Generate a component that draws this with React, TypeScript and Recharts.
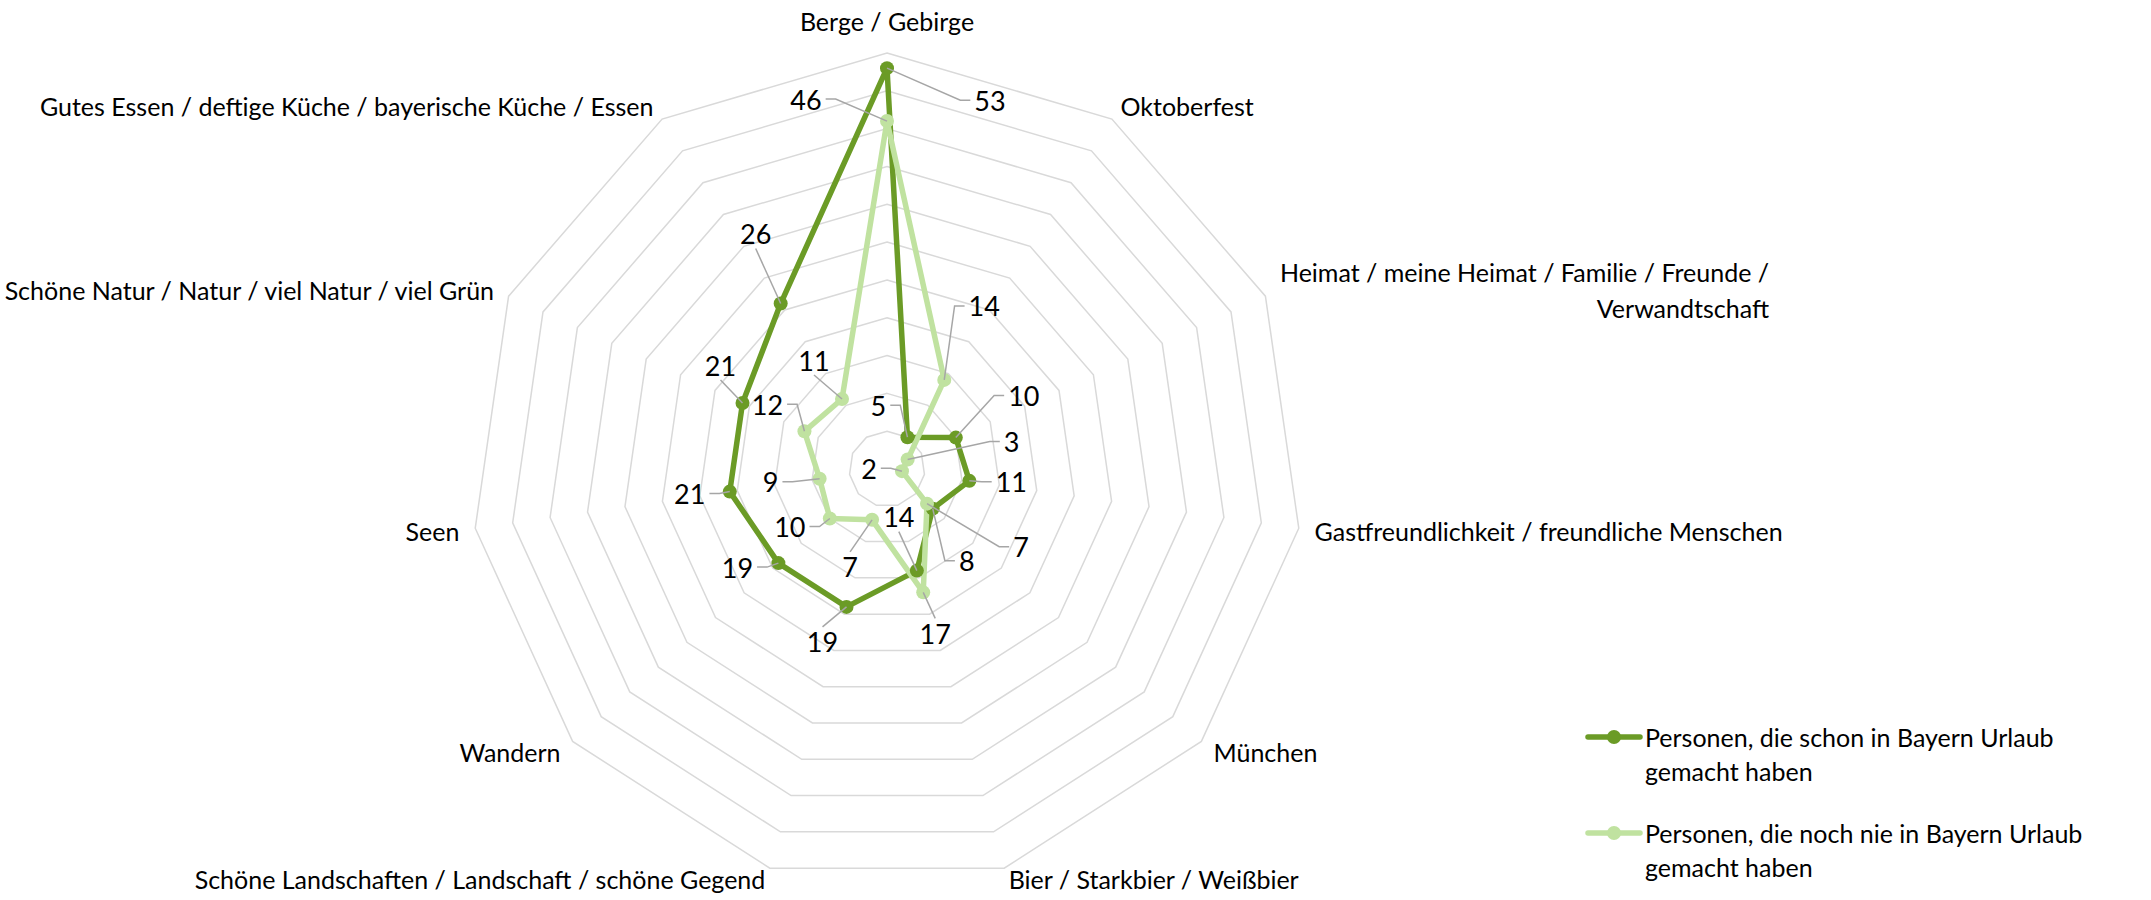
import { Legend, PolarAngleAxis, PolarGrid, PolarRadiusAxis, Radar, RadarChart } from "recharts";

const categories = [
  "Berge / Gebirge",
  "Oktoberfest",
  "Heimat / meine Heimat / Familie / Freunde / Verwandtschaft",
  "Gastfreundlichkeit / freundliche Menschen",
  "München",
  "Bier / Starkbier / Weißbier",
  "Schöne Landschaften / Landschaft / schöne Gegend",
  "Wandern",
  "Seen",
  "Schöne Natur / Natur / viel Natur / viel Grün",
  "Gutes Essen / deftige Küche / bayerische Küche / Essen"
];
const visitedValues = [53, 5, 10, 11, 8, 14, 19, 19, 21, 21, 26];
const neverValues = [46, 14, 3, 2, 7, 17, 7, 10, 9, 12, 11];
const visitedName = "Personen, die schon in Bayern Urlaub gemacht haben";
const neverName = "Personen, die noch nie in Bayern Urlaub gemacht haben";
const seriesOrder = [visitedName, neverName];
const radiusDomain = [0, 55];
const radiusTickCount = 12;

// label centre offsets from each point (Excel had them dragged by hand)
const visitedLabelOffsets = [
  [103, 32], [-29, -32], [68, -42], [42, 1], [34, 52], [-18, -54],
  [-24, 35], [-41, 4], [-40, 2], [-22, -38], [-25, -70]
];
const neverLabelOffsets = [
  [-81, -22], [40, -74], [104, -18], [-33, -3], [94, 43], [12, 41],
  [-22, 47], [-40, 8], [-49, 3], [-37, -27], [-28, -39]
];

const WIDTH = 2151;
const HEIGHT = 900;
const CX = 887;
const CY = 469;
const OUTER = 416;
const FONT = "Lato, 'Open Sans', sans-serif";
const CATEGORY_SIZE = 25;
const VALUE_SIZE = 27;
const LEGEND_SIZE = 25;
const DARK = "#6B9B26";
const LIGHT = "#C0E2A0";
const LEADER = "#A6A6A6";
const LINE_WIDTH = 5.5;
const DOT_R = 7;

const rows = categories.map((category, i) => ({
  category,
  visited: visitedValues[i],
  never: neverValues[i]
}));

let measureCtx: CanvasRenderingContext2D | null = null;
function measure(text: string, size: number) {
  if (!measureCtx) measureCtx = document.createElement("canvas").getContext("2d");
  if (!measureCtx) return text.length * size * 0.5;
  measureCtx.font = `${size}px ${FONT}`;
  return measureCtx.measureText(text).width;
}

function wrapLabel(text: string) {
  if (text.length <= 55) return [text];
  const words = text.split(" ");
  const lines: string[] = [];
  let line = "";
  for (const w of words) {
    const next = line ? `${line} ${w}` : w;
    if (next.length > 45 && line) {
      lines.push(line);
      line = w;
    } else {
      line = next;
    }
  }
  if (line) lines.push(line);
  return lines;
}

function CategoryTick(props: any) {
  const { x, y, payload } = props;
  const len = Math.hypot(x - CX, y - CY) || 1;
  const sin = (x - CX) / len;
  const cos = -(y - CY) / len;
  const vx = CX + sin * OUTER;
  const vy = CY - cos * OUTER;
  const lines = wrapLabel(String(payload.value));

  let anchor: "start" | "middle" | "end" = "middle";
  let tx = vx;
  let ty = vy - 32;
  if (Math.abs(sin) > 0.05) {
    anchor = sin > 0 ? "start" : "end";
    tx = vx + 16 * sin;
    ty = vy + (cos > 0 ? -15 * cos : Math.min(11, -17 * cos));
  }

  const lineHeight = 36;
  let x0 = tx;
  let textAnchor = anchor;
  if (lines.length > 1) {
    const maxW = Math.max(...lines.map((l) => measure(l, CATEGORY_SIZE)));
    x0 = anchor === "start" ? tx + maxW : anchor === "end" ? tx : tx + maxW / 2;
    textAnchor = "end";
  }

  return (
    <g>
      {lines.map((l, i) => (
        <text
          key={l}
          x={x0}
          y={ty + (i - (lines.length - 1) / 2) * lineHeight}
          textAnchor={textAnchor}
          dominantBaseline="central"
          fontFamily={FONT}
          fontSize={CATEGORY_SIZE}
          fill="#000"
        >
          {l}
        </text>
      ))}
    </g>
  );
}

function makeDot(color: string) {
  return (props: any) => (
    <circle key={`dot-${props.index}`} cx={props.cx} cy={props.cy} r={DOT_R} fill={color} stroke="none" />
  );
}

function makeValueLabel(values: number[], offsets: number[][]) {
  return (props: any) => {
    const { cx, cy, index } = props;
    const [ox, oy] = offsets[index];
    const text = String(values[index]);
    const lx = cx + ox;
    const ly = cy + oy;
    const halfW = measure(text, VALUE_SIZE) / 2;
    const halfH = 12;
    let d: string;
    if (Math.abs(ox) > halfW + 16) {
      const side = ox > 0 ? -1 : 1;
      const endX = lx + side * (halfW + 4);
      const elbowX = endX + side * 10;
      d = `M${cx},${cy}L${elbowX},${ly}L${endX},${ly}`;
    } else {
      const endY = ly + (oy > 0 ? -(halfH + 3) : halfH + 3);
      d = `M${cx},${cy}L${lx},${endY}`;
    }
    return (
      <g key={`label-${index}`}>
        <path d={d} stroke={LEADER} strokeWidth={1.5} fill="none" />
        <text
          x={lx}
          y={ly}
          textAnchor="middle"
          dominantBaseline="central"
          fontFamily={FONT}
          fontSize={VALUE_SIZE}
          fill="#000"
        >
          {text}
        </text>
      </g>
    );
  };
}

function LegendContent(props: any) {
  const items = (props.payload ?? [])
    .filter((p: any) => p.type !== "none" && seriesOrder.includes(p.value))
    .sort((a: any, b: any) => seriesOrder.indexOf(a.value) - seriesOrder.indexOf(b.value));
  return (
    <div style={{ fontFamily: FONT, fontSize: LEGEND_SIZE, color: "#000" }}>
      {items.map((item: any, i: number) => (
        <div key={item.value} style={{ display: "flex", alignItems: "flex-start", marginTop: i === 0 ? 0 : 28 }}>
          <svg width={58} height={34} style={{ flex: "none" }}>
            <line x1={3} y1={17} x2={55} y2={17} stroke={item.color} strokeWidth={LINE_WIDTH} strokeLinecap="round" />
            <circle cx={29} cy={17} r={DOT_R} fill={item.color} />
          </svg>
          <div style={{ width: 490, lineHeight: "34px", marginLeft: 2 }}>{item.value}</div>
        </div>
      ))}
    </div>
  );
}

export default function App() {
  return (
    <div style={{ position: "absolute", left: 0, top: 0, width: WIDTH, height: HEIGHT, background: "#fff" }}>
      <RadarChart
        width={WIDTH}
        height={HEIGHT}
        data={rows}
        cx={CX}
        cy={CY}
        outerRadius={OUTER}
        margin={{ top: 0, right: 0, bottom: 0, left: 0 }}
      >
        <PolarGrid gridType="polygon" radialLines={false} stroke="#D9D9D9" strokeWidth={1.5} />
        <PolarAngleAxis dataKey="category" tick={<CategoryTick />} tickLine={false} axisLine={false} />
        <PolarRadiusAxis
          type="number"
          domain={radiusDomain}
          tickCount={radiusTickCount}
          tick={false}
          axisLine={false}
        />
        <Radar
          name={visitedName}
          dataKey="visited"
          stroke={DARK}
          strokeWidth={LINE_WIDTH}
          strokeLinejoin="round"
          fill="none"
          fillOpacity={0}
          dot={makeDot(DARK)}
          isAnimationActive={false}
        />
        <Radar
          name={neverName}
          dataKey="never"
          stroke={LIGHT}
          strokeWidth={LINE_WIDTH}
          strokeLinejoin="round"
          fill="none"
          fillOpacity={0}
          dot={makeDot(LIGHT)}
          isAnimationActive={false}
        />
        <Radar
          dataKey="visited"
          stroke="none"
          fill="none"
          legendType="none"
          dot={makeValueLabel(visitedValues, visitedLabelOffsets)}
          isAnimationActive={false}
        />
        <Radar
          dataKey="never"
          stroke="none"
          fill="none"
          legendType="none"
          dot={makeValueLabel(neverValues, neverLabelOffsets)}
          isAnimationActive={false}
        />
        <Legend
          layout="vertical"
          align="right"
          verticalAlign="middle"
          content={<LegendContent />}
          wrapperStyle={{ position: "absolute", left: 1585, top: 720, width: 560 }}
        />
      </RadarChart>
    </div>
  );
}
